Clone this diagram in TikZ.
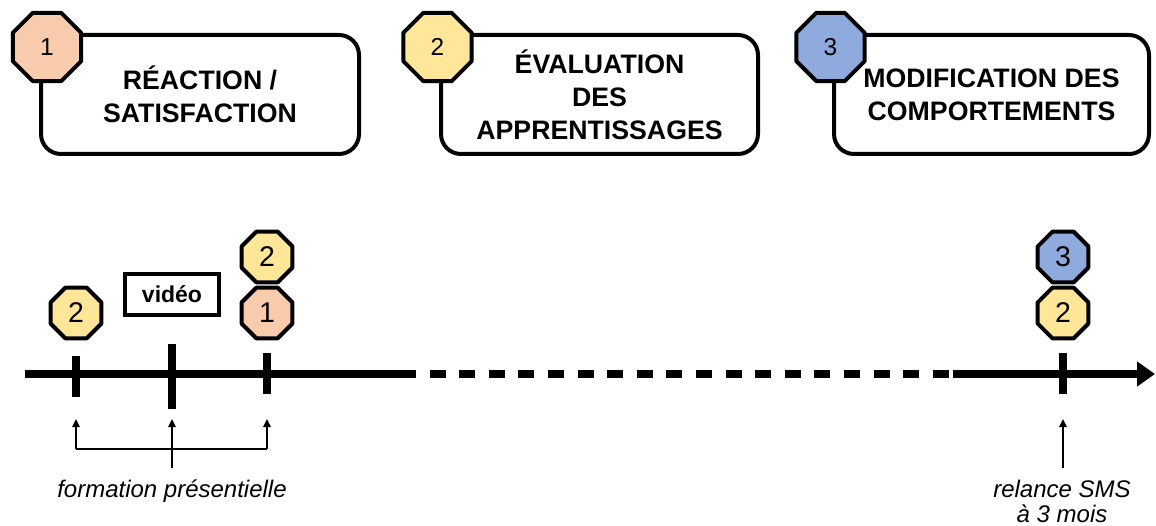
\documentclass[tikz,border=0pt]{standalone}
\usepackage{fontspec}
\setmainfont{Liberation Sans}
\usetikzlibrary{shapes.geometric,arrows.meta}
\definecolor{peach}{HTML}{F8CBAD}
\definecolor{gold}{HTML}{FFE699}
\definecolor{lblue}{HTML}{8FAADC}
\tikzset{
  levelbox/.style={draw=black, line width=4pt, rounded corners=20pt, fill=white,
    align=center, inner sep=0pt, font=\bfseries\fontsize{26.7}{33}\selectfont},
  bigoct/.style={regular polygon, regular polygon sides=8, draw=black, line width=4pt,
    line join=round, minimum size=74pt, inner sep=0pt, font=\fontsize{24.5}{28}\selectfont},
  smalloct/.style={regular polygon, regular polygon sides=8, draw=black, line width=4pt,
    line join=round, minimum size=55pt, inner sep=0pt, font=\fontsize{28.5}{32}\selectfont},
  tickmark/.style={line width=8pt},
  axis/.style={line width=8pt},
  thinarrow/.style={line width=1.3pt, -{Triangle[length=8pt,width=7.5pt]}},
  note/.style={font=\itshape\fontsize{24}{28}\selectfont, inner sep=0pt, anchor=base},
}
\begin{document}
\begin{tikzpicture}[x=1pt,y=-1pt]
\useasboundingbox (0,0) rectangle (1156,526);
% level boxes
\node[levelbox, minimum width=318pt, minimum height=119pt] (box1) at (200,94.5) {RÉACTION /\\SATISFACTION};
\node[levelbox, minimum width=317pt, minimum height=119pt] (box2) at (599.5,94.5) {ÉVALUATION\\DES\\APPRENTISSAGES};
\node[levelbox, minimum width=315pt, minimum height=119pt] (box3) at (991.5,94.5) {MODIFICATION DES\\COMPORTEMENTS};
\node[bigoct, fill=peach] (o1) at (47,47) {1};
\node[bigoct, fill=gold] (o2) at (437.5,47) {2};
\node[bigoct, fill=lblue] (o3) at (830.5,47) {3};
% timeline
\coordinate (tl0) at (25,374);
\coordinate (d0) at (416,374);
\coordinate (d1) at (953,374);
\coordinate (tlend) at (1155,374);
\draw[axis] (tl0) -- (d0);
\draw[axis, dash pattern=on 16pt off 13.6pt, dash phase=16pt] (d0) -- (d1);
\draw[axis, -{Triangle[length=18pt,width=24pt]}] (d1) -- (tlend);
% ticks
\coordinate (k1a) at (76,356); \coordinate (k1b) at (76,397);
\coordinate (k2a) at (172,344); \coordinate (k2b) at (172,409);
\coordinate (k3a) at (267,353); \coordinate (k3b) at (267,394);
\coordinate (k4a) at (1063,353); \coordinate (k4b) at (1063,394);
\draw[tickmark] (k1a) -- (k1b);
\draw[tickmark] (k2a) -- (k2b);
\draw[tickmark] (k3a) -- (k3b);
\draw[tickmark] (k4a) -- (k4b);
% markers on ticks
\node[smalloct, fill=gold] (m1) at (76,313) {2};
\node[draw=black, line width=4pt, minimum width=94pt, minimum height=41pt, inner sep=0pt,
  font=\bfseries\fontsize{23}{26}\selectfont] (video) at (172,294.5) {vidéo};
\node[smalloct, fill=gold] (m3a) at (267,257) {2};
\node[smalloct, fill=peach] (m3b) at (267,313) {1};
\node[smalloct, fill=lblue] (m4a) at (1063,257) {3};
\node[smalloct, fill=gold] (m4b) at (1063,313) {2};
% bottom arrows
\coordinate (b1) at (76,449);
\coordinate (b3) at (267,449);
\coordinate (bm) at (172,468);
\coordinate (a1) at (76,419);
\coordinate (a2) at (172,419);
\coordinate (a3) at (267,419);
\draw[line width=1.3pt] (b1) -- (b3);
\draw[thinarrow] (b1) -- (a1);
\draw[thinarrow] (b3) -- (a3);
\draw[thinarrow] (bm) -- (a2);
\node[note] (form) at (172,497) {formation présentielle};
\coordinate (r0) at (1063,468);
\coordinate (r1) at (1063,419);
\draw[thinarrow] (r0) -- (r1);
\node[note] (rel1) at (1062,497) {relance SMS};
\node[note] (rel2) at (1062,522) {à 3 mois};
\end{tikzpicture}
\end{document}
